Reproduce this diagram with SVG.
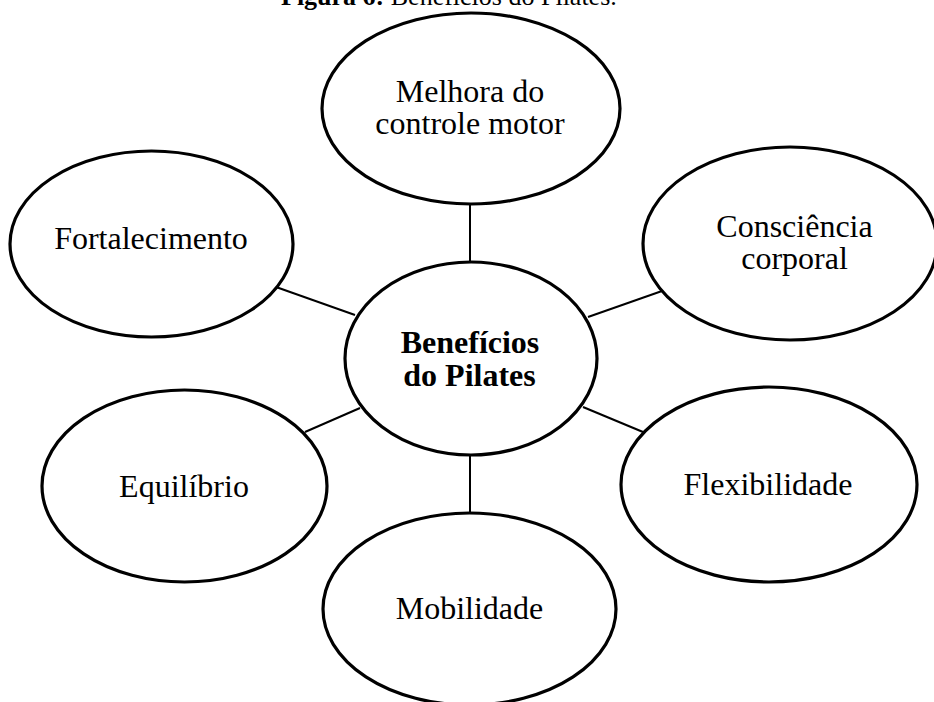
<svg xmlns="http://www.w3.org/2000/svg" width="934" height="702" viewBox="0 0 934 702">
<style>
.node ellipse{fill:#fff;stroke:#000;stroke-width:3.2}
.lbl{font-family:"Liberation Serif","Times New Roman",serif;font-size:32px;fill:#000;text-anchor:middle}
.b{font-weight:bold}
.conn line{stroke:#000;stroke-width:2}
.title{font-family:"Liberation Serif","Times New Roman",serif;font-size:26px;fill:#000}
</style>
<rect width="934" height="702" fill="#fff"/>
<text class="title" x="281" y="5"><tspan font-weight="bold">Figura 6:</tspan> Benefícios do Pilates.</text>
<g id="connectors" class="conn">
<line x1="470" y1="204" x2="470" y2="262"/>
<line x1="470" y1="455" x2="470" y2="513"/>
<line x1="276" y1="287" x2="355" y2="315"/>
<line x1="588" y1="317" x2="662" y2="291"/>
<line x1="305" y1="432" x2="360" y2="408"/>
<line x1="583" y1="407" x2="643" y2="432"/>
</g>
<g id="n-melhora" class="node">
<ellipse cx="471" cy="108.5" rx="149" ry="95.5"/>
<text class="lbl" x="470" y="102">Melhora do</text>
<text class="lbl" x="470" y="134">controle motor</text>
</g>
<g id="n-fortalecimento" class="node">
<ellipse cx="151.5" cy="244" rx="141.5" ry="93"/>
<text class="lbl" x="151" y="249">Fortalecimento</text>
</g>
<g id="n-consciencia" class="node">
<ellipse cx="790" cy="243.5" rx="147" ry="96.5"/>
<text class="lbl" x="794.5" y="237">Consciência</text>
<text class="lbl" x="794.5" y="269">corporal</text>
</g>
<g id="n-centro" class="node">
<ellipse cx="471" cy="358.5" rx="126" ry="96.5"/>
<text class="lbl b" x="470" y="353">Benefícios</text>
<text class="lbl b" x="469.5" y="386">do Pilates</text>
</g>
<g id="n-equilibrio" class="node">
<ellipse cx="184.5" cy="486" rx="142.5" ry="96"/>
<text class="lbl" x="184" y="497">Equilíbrio</text>
</g>
<g id="n-flexibilidade" class="node">
<ellipse cx="769" cy="484.5" rx="148" ry="97.5"/>
<text class="lbl" x="768" y="495">Flexibilidade</text>
</g>
<g id="n-mobilidade" class="node">
<ellipse cx="469.5" cy="609" rx="146.5" ry="96"/>
<text class="lbl" x="469.5" y="619">Mobilidade</text>
</g>
</svg>
